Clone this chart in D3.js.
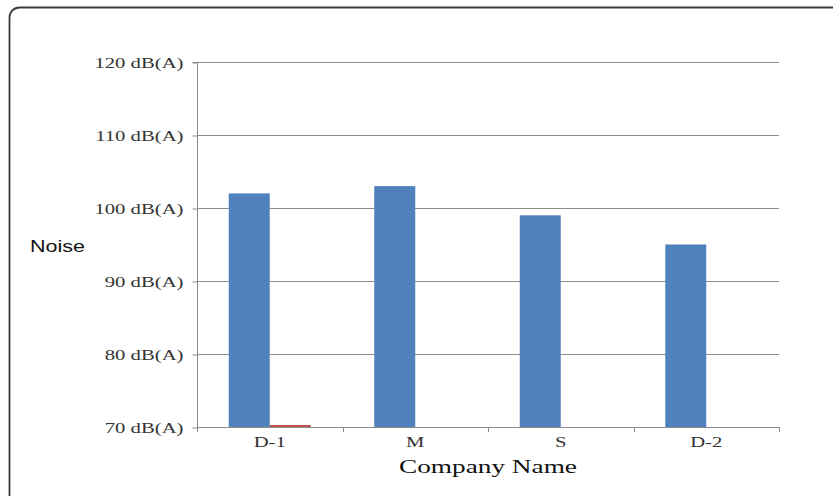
<!DOCTYPE html>
<html><head><meta charset="utf-8">
<script src="https://cdn.jsdelivr.net/npm/d3@7"></script>
<style>body{margin:0;background:#fff}svg{display:block}</style>
</head><body>
<svg id="c" width="833" height="496"></svg>
<script>
const categories = ["D-1", "M", "S", "D-2"];
const noiseValues = [102, 103, 99, 95];
const secondValues = [70.1, null, null, null];
const yTicks = [70, 80, 90, 100, 110, 120];
const yTickLabels = ["70 dB(A)", "80 dB(A)", "90 dB(A)", "100 dB(A)", "110 dB(A)", "120 dB(A)"];

const svg = d3.select("#c");
const m = {l: 197, r: 779, t: 62, b: 427};
const labelFont = "'Liberation Serif', serif";

function stretch(sel, k) {
  sel.each(function () {
    const w = this.getComputedTextLength();
    d3.select(this).attr("textLength", w * k).attr("lengthAdjust", "spacingAndGlyphs");
  });
}

// outer frame
svg.append("rect").attr("x", 9.5).attr("y", 7.5).attr("width", 840).attr("height", 500)
  .attr("rx", 10).attr("fill", "#fff").attr("stroke", "#3a3a3a").attr("stroke-width", 1.8);

const x = d3.scaleBand().domain(categories).range([m.l, m.r]).paddingInner(0).paddingOuter(0);
const x1 = d3.scaleBand().domain(["a", "b"]).range([0, x.bandwidth()]).paddingOuter(0.775).paddingInner(0);
const y = d3.scaleLinear().domain([70, 120]).range([m.b, m.t]);

// gridlines
svg.append("g").selectAll("line").data(yTicks.filter(d => d > 70)).join("line")
  .attr("x1", m.l).attr("x2", m.r).attr("y1", d => y(d) + 0.5).attr("y2", d => y(d) + 0.5)
  .attr("stroke", "#8c8c8c").attr("stroke-width", 1);

// y axis
const yAxis = d3.axisLeft(y).tickValues(yTicks).tickSize(5).tickPadding(9)
  .tickFormat((d, i) => yTickLabels[i]);
const gy = svg.append("g").attr("transform", `translate(${m.l + 0.5},0.5)`).call(yAxis);
gy.select(".domain").attr("stroke", "#8c8c8c").attr("d", `M-5,${m.t}H0V${m.b}`);
gy.selectAll(".tick line").attr("stroke", "#8c8c8c");
gy.selectAll("text").attr("font-family", labelFont).attr("font-size", 15).attr("fill", "#333");
stretch(gy.selectAll("text"), 1.38);

// bars
const g = svg.append("g");
g.selectAll("rect.a").data(categories).join("rect").attr("class", "a")
  .attr("x", (d, i) => x(d) + x1("a")).attr("width", x1.bandwidth())
  .attr("y", (d, i) => y(noiseValues[i])).attr("height", (d, i) => y(70) - y(noiseValues[i]))
  .attr("fill", "#4F81BD");
g.selectAll("rect.b").data(categories.filter((d, i) => secondValues[i] != null)).join("rect").attr("class", "b")
  .attr("x", d => x(d) + x1("b")).attr("width", x1.bandwidth())
  .attr("y", d => Math.round(y(secondValues[categories.indexOf(d)])) - 1)
  .attr("height", 2)
  .attr("fill", "#C0504D");

// x axis
const xAxis = d3.axisBottom(x).tickSize(0).tickPadding(9);
const gx = svg.append("g").attr("transform", `translate(0,${m.b + 0.5})`).call(xAxis);
gx.select(".domain").attr("stroke", "#8c8c8c").attr("d", `M${m.l},0H${m.r}`);
gx.selectAll("text").attr("font-family", labelFont).attr("font-size", 15).attr("fill", "#333");
stretch(gx.selectAll("text"), 1.38);
svg.append("g").selectAll("line").data(d3.range(categories.length + 1)).join("line")
  .attr("x1", i => Math.round(m.l + i * x.bandwidth()) + 0.5).attr("x2", i => Math.round(m.l + i * x.bandwidth()) + 0.5)
  .attr("y1", m.b).attr("y2", m.b + 5).attr("stroke", "#8c8c8c");

// titles
svg.append("text").attr("x", 399).attr("y", 473)
  .attr("font-family", "'Liberation Serif', serif").attr("font-size", 19).attr("fill", "#111")
  .attr("textLength", 178).attr("lengthAdjust", "spacingAndGlyphs").text("Company Name");
svg.append("text").attr("x", 30).attr("y", 252)
  .attr("font-family", "'Liberation Sans', sans-serif").attr("font-size", 16.5).attr("fill", "#111")
  .attr("textLength", 55).attr("lengthAdjust", "spacingAndGlyphs").text("Noise");
</script>
</body></html>
